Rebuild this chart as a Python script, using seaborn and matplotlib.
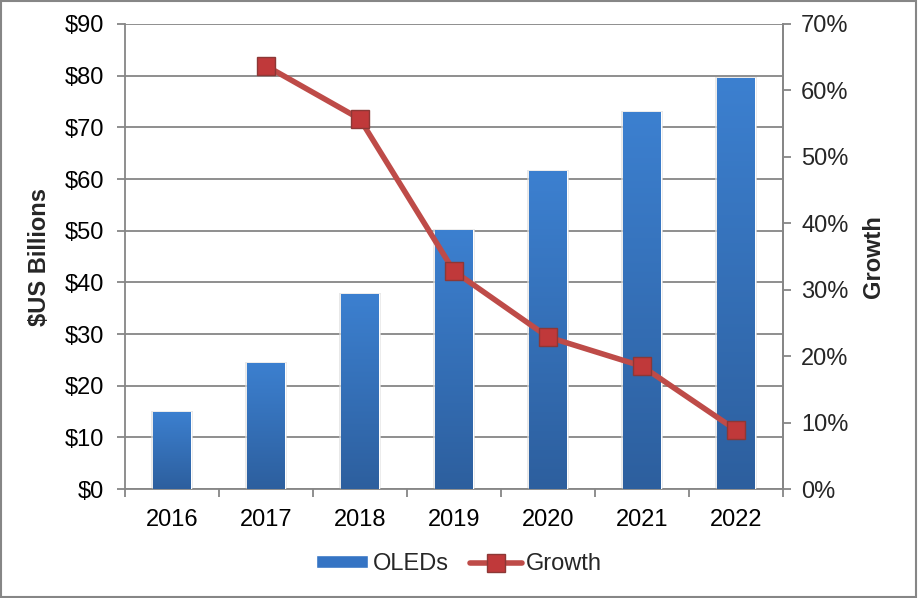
import numpy as np
import pandas as pd
import matplotlib
matplotlib.use("Agg")
import matplotlib.pyplot as plt
import seaborn as sns
from matplotlib.ticker import FuncFormatter, MultipleLocator
from matplotlib.lines import Line2D
from matplotlib.patches import Rectangle

years = ["2016", "2017", "2018", "2019", "2020", "2021", "2022"]
oleds = [14.9, 24.4, 37.7, 50.1, 61.5, 72.9, 79.5]
growth_years = ["2017", "2018", "2019", "2020", "2021", "2022"]
growth = [63.7, 55.7, 32.8, 22.9, 18.5, 8.9]

sns.set_style("white")
plt.rcParams['font.family'] = ['Liberation Sans', 'DejaVu Sans']
FS = 17

fig = plt.figure(figsize=(9.18, 5.98), dpi=100)
ax = fig.add_axes([0.136, 0.182, 0.717, 0.778])

df = pd.DataFrame({"year": years, "oleds": oleds})
sns.barplot(data=df, x="year", y="oleds", color="#3a7dcc", width=0.40, ax=ax,
            saturation=1, zorder=3)

# vertical gradient on bars, with a faint shadow
grad = np.linspace(0, 1, 256).reshape(-1, 1)
cmap = matplotlib.colors.LinearSegmentedColormap.from_list("g", ["#2d5f9e", "#3c80d0"])
for p in list(ax.patches):
    x0, y0 = p.get_x(), p.get_y()
    w, h = p.get_width(), p.get_height()
    ax.add_patch(Rectangle((x0 - 0.02, y0), w + 0.04, h + 0.25, facecolor="#d9d9d9",
                           edgecolor="none", alpha=0.6, zorder=2.5))
    im = ax.imshow(grad, cmap=cmap, aspect="auto", origin="lower",
                   extent=[x0, x0 + w, y0, y0 + h], zorder=4)
    im.set_clip_path(p)
ax.set_xlim(-0.5, 6.5)
ax.set_ylim(0, 90)
ax.yaxis.set_major_locator(MultipleLocator(10))
ax.yaxis.set_major_formatter(FuncFormatter(lambda v, _: f"${v:.0f}"))
ax.grid(axis="y", color="#868686", linewidth=1.3, zorder=0)
ax.set_axisbelow(True)
ax.set_xlabel("")
ax.set_ylabel("$US Billions", fontsize=FS, fontweight="bold", labelpad=10)
ax.tick_params(axis="both", labelsize=FS, colors="black")
ax.tick_params(axis="y", length=6, width=1.3, color="#868686", direction="out", left=True, pad=9)
ax.set_xticks(range(len(years)))
ax.set_xticklabels(years)
ax.tick_params(axis="x", length=0, pad=14)
# category boundary ticks
ax.set_xticks(np.arange(-0.5, 7, 1), minor=True)
ax.tick_params(axis="x", which="minor", length=6, width=1.3, color="#868686",
               direction="out", bottom=True)
for s in ax.spines.values():
    s.set_color("#868686")
    s.set_linewidth(1.3)
ax.spines["top"].set_visible(False)

ax2 = ax.twinx()
gidx = [years.index(y) for y in growth_years]
sns.lineplot(x=gidx, y=growth, ax=ax2, color="#be4b48", linewidth=4, marker="s",
             markersize=13, markerfacecolor="#c0393a", markeredgecolor="#8c3836",
             markeredgewidth=1, zorder=5)
ax2.set_ylim(0, 70)
ax2.set_xlim(-0.5, 6.5)
ax2.yaxis.set_major_locator(MultipleLocator(10))
ax2.yaxis.set_major_formatter(FuncFormatter(lambda v, _: f"{v:.0f}%"))
ax2.set_ylabel("Growth", fontsize=FS, fontweight="bold", labelpad=10)
ax2.tick_params(axis="y", labelsize=FS, length=6, width=1.3, color="#868686",
                direction="out", right=True, pad=7)
for s in ax2.spines.values():
    s.set_visible(False)
ax2.spines["right"].set_visible(True)
ax2.spines["right"].set_color("#868686")
ax2.spines["right"].set_linewidth(1.3)

handles = [Rectangle((0, 0), 1, 1, facecolor="#3574c4"),
           Line2D([0], [0], color="#be4b48", linewidth=4, marker="s", markersize=13,
                  markerfacecolor="#c0393a", markeredgecolor="#8c3836")]
fig.legend(handles, ["OLEDs", "Growth"], loc="center", bbox_to_anchor=(0.5, 0.057),
           ncol=2, frameon=False, fontsize=FS, handlelength=2.2, handleheight=0.45,
           handletextpad=0.2, columnspacing=0.9)

fig.patches.append(Rectangle((0.001, 0.001), 0.997, 0.997, transform=fig.transFigure,
                             fill=False, edgecolor="#868686", linewidth=1.5))

fig.savefig("out.png", dpi=100)
